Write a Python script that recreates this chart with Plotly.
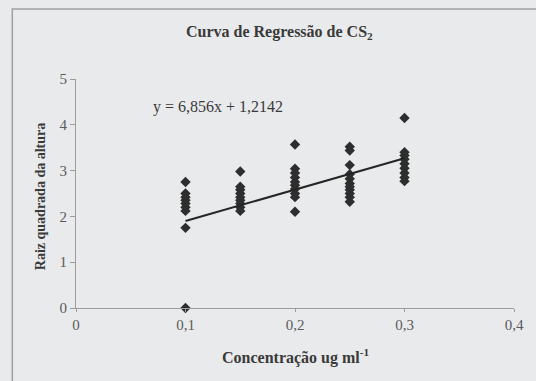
import plotly.graph_objects as go

# Data
conc_01 = [2.75, 2.50, 2.42, 2.35, 2.28, 2.20, 2.12, 1.75, 0.0]
conc_015 = [2.98, 2.65, 2.58, 2.50, 2.42, 2.35, 2.28, 2.20, 2.12]
conc_02 = [3.57, 3.04, 2.95, 2.85, 2.75, 2.68, 2.60, 2.50, 2.42, 2.10]
conc_025 = [3.52, 3.44, 3.12, 2.92, 2.82, 2.72, 2.65, 2.58, 2.50, 2.42, 2.32]
conc_03 = [4.15, 3.40, 3.33, 3.25, 3.15, 3.05, 2.95, 2.85, 2.77]
x_levels = [0.1, 0.15, 0.2, 0.25, 0.3]
slope = 6.856
intercept = 1.2142
x_ticks = [0, 0.1, 0.2, 0.3, 0.4]
x_tick_labels = ["0", "0,1", "0,2", "0,3", "0,4"]
y_ticks = [0, 1, 2, 3, 4, 5]

groups = [conc_01, conc_015, conc_02, conc_025, conc_03]
xs, ys = [], []
for xv, vals in zip(x_levels, groups):
    xs += [xv] * len(vals)
    ys += vals

line_x = [min(x_levels), max(x_levels)]
line_y = [slope * v + intercept for v in line_x]

SERIF = "Liberation Serif, Times New Roman, serif"
BG = "#e9eaec"
GRID = "#9c9c9c"

fig = go.Figure()
fig.add_trace(go.Scatter(x=xs, y=ys, mode="markers",
                         marker=dict(symbol="diamond", size=8, color="#2e2e2e"),
                         cliponaxis=False, showlegend=False))
fig.add_trace(go.Scatter(x=line_x, y=line_y, mode="lines",
                         line=dict(color="#262626", width=2), showlegend=False))

L, R, T, B = 76, 20, 79, 73
W, H = 536, 381
pw, ph = W - L - R, H - T - B


def px(xp):
    return (xp - L) / pw


def py(yp):
    return (H - B - yp) / ph


fig.update_layout(
    width=W, height=H,
    margin=dict(l=L, r=R, t=T, b=B),
    paper_bgcolor=BG, plot_bgcolor=BG,
    xaxis=dict(range=[0, 0.4], tickvals=x_ticks, ticktext=x_tick_labels,
               showgrid=False, zeroline=False, showline=True, linecolor=GRID,
               linewidth=1, ticks="outside", ticklen=3, tickcolor=GRID,
               tickfont=dict(family=SERIF, size=15, color="#5a5a5a"),
               fixedrange=True),
    yaxis=dict(range=[0, 5], tickvals=y_ticks, showgrid=False, zeroline=False,
               showline=True, linecolor=GRID, linewidth=1, ticks="outside",
               ticklen=5, tickcolor=GRID,
               tickfont=dict(family=SERIF, size=15, color="#5a5a5a"),
               fixedrange=True),
    shapes=[dict(type="rect", xref="paper", yref="paper",
                 x0=px(12), x1=px(545), y0=py(395), y1=py(9),
                 line=dict(color="#a0a0a0", width=1.5), layer="below")],
    annotations=[
        dict(text="<b>Curva de Regressão de CS<sub>2</sub></b>", xref="paper", yref="paper",
             x=px(280), y=py(32), showarrow=False, xanchor="center", yanchor="middle",
             font=dict(family=SERIF, size=16, color="#3a3a3a")),
        dict(text="y = 6,856x + 1,2142", xref="paper", yref="paper",
             x=px(151), y=py(107), showarrow=False, xanchor="left", yanchor="middle",
             font=dict(family=SERIF, size=16, color="#3a3a3a")),
        dict(text="<b>Raiz quadrada da altura</b>", xref="paper", yref="paper",
             x=px(40), y=py(197), showarrow=False, textangle=-90,
             xanchor="center", yanchor="middle",
             font=dict(family=SERIF, size=14, color="#3a3a3a")),
        dict(text="<b>Concentração ug ml<sup>-1</sup></b>", xref="paper", yref="paper",
             x=px(297), y=py(356), showarrow=False, xanchor="center", yanchor="middle",
             font=dict(family=SERIF, size=16, color="#3a3a3a")),
    ],
)

fig.write_html("out.html", config={"displayModeBar": False, "staticPlot": True})

# remove the browser's default page margin so the figure sits at (0, 0)
with open("out.html", encoding="utf-8") as f:
    html = f.read()
html = html.replace("<head>", "<head><style>html,body{margin:0;padding:0;background:%s;overflow:hidden}</style>" % BG, 1)
with open("out.html", "w", encoding="utf-8") as f:
    f.write(html)
